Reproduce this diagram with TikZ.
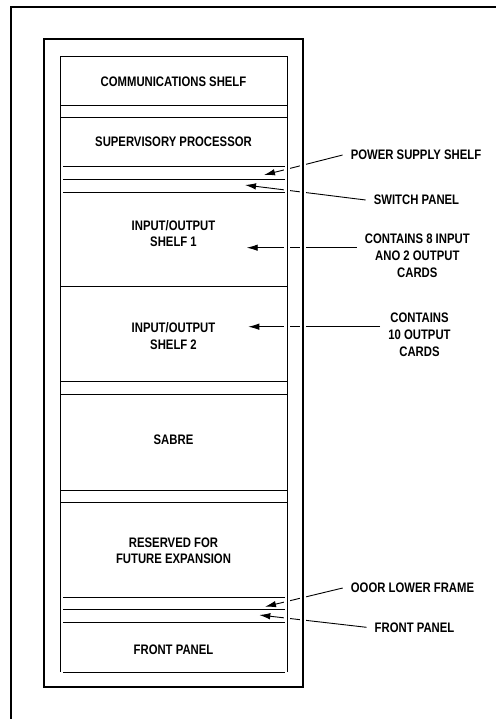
\documentclass[tikz,border=0pt]{standalone}
\usepackage{fontspec}
\setmainfont[FakeStretch=0.82]{Liberation Sans}
\usetikzlibrary{arrows.meta}
\begin{document}
\begin{tikzpicture}[x=1pt,y=-1pt,
  struct/.style={line width=1pt},
  framebox/.style={line width=1.5pt},
  halo/.style={white,line width=6pt},
  shelftext/.style={font=\fontsize{13.8}{16.5}\selectfont\bfseries,align=center,inner sep=0pt},
  lbl/.style={font=\fontsize{13.8}{17}\selectfont\bfseries,align=center,inner sep=8pt},
  arr/.style={line width=0.9pt,-{Latex[length=11pt,width=6.5pt]}}]
\useasboundingbox (0,0) rectangle (496,719);

% arrow tip points
\coordinate (psstip) at (264,175);
\coordinate (swtip) at (245,185);
\coordinate (c8tip) at (246.7,247.7);
\coordinate (c10tip) at (248.3,326.7);
\coordinate (dlftip) at (265,606.7);
\coordinate (fprtip) at (259.3,615);

% right labels
\node[lbl] (pss) at (416,155) {POWER SUPPLY SHELF};
\node[lbl] (sw) at (416.5,200) {SWITCH PANEL};
\node[lbl] (c8) at (417.3,255.5) {CONTAINS 8 INPUT\\ANO 2 OUTPUT\\CARDS};
\node[lbl] (c10) at (419.5,335) {CONTAINS\\10 OUTPUT\\CARDS};
\node[lbl] (dlf) at (412.5,588) {OOOR LOWER FRAME};
\node[lbl] (fpr) at (414.5,627.3) {FRONT PANEL};

% arrows
\draw[arr] (pss.west) -- (psstip);
\draw[arr] (sw.west) -- (swtip);
\draw[arr] (c8.west |- c8tip) -- (c8tip);
\draw[arr] (c10.west |- c10tip) -- (c10tip);
\draw[arr] (dlf.west) -- (dlftip);
\draw[arr] (fpr.west) -- (fprtip);

% gaps where the arrows cross the frame lines
\draw[halo] (287,39) -- (287,687);
\draw[halo] (303,39) -- (303,687);

% outer border (top and left)
\draw[line width=1.8pt] (11,719) -- (11,7) -- (496,7);

% cabinet frame
\draw[framebox] (44,39) rectangle (303,687);

% inner panel
\draw[struct] (60.5,672) -- (60.5,57) -- (287,57) -- (287,672);
\draw[struct] (63,672) -- (285,672);
\foreach \yy in {105.5,117.5,286.5,381.5,394.5,490.5,502.5}
  \draw[struct] (60.5,\yy) -- (287,\yy);
\foreach \yy in {166.5,179.5,192.5,597.5,609.5,622.5}
  \draw[struct] (63,\yy) -- (285,\yy);

% shelf labels
\node[shelftext] (comm) at (173.5,82) {COMMUNICATIONS SHELF};
\node[shelftext] (sup) at (173.5,141.7) {SUPERVISORY PROCESSOR};
\node[shelftext] (io1) at (173.5,233.5) {INPUT/OUTPUT\\SHELF 1};
\node[shelftext] (io2) at (173.5,336) {INPUT/OUTPUT\\SHELF 2};
\node[shelftext] (sabre) at (173.5,440) {SABRE};
\node[shelftext] (res) at (173.5,550.5) {RESERVED FOR\\FUTURE EXPANSION};
\node[shelftext] (fp) at (173.5,650) {FRONT PANEL};
\end{tikzpicture}
\end{document}
